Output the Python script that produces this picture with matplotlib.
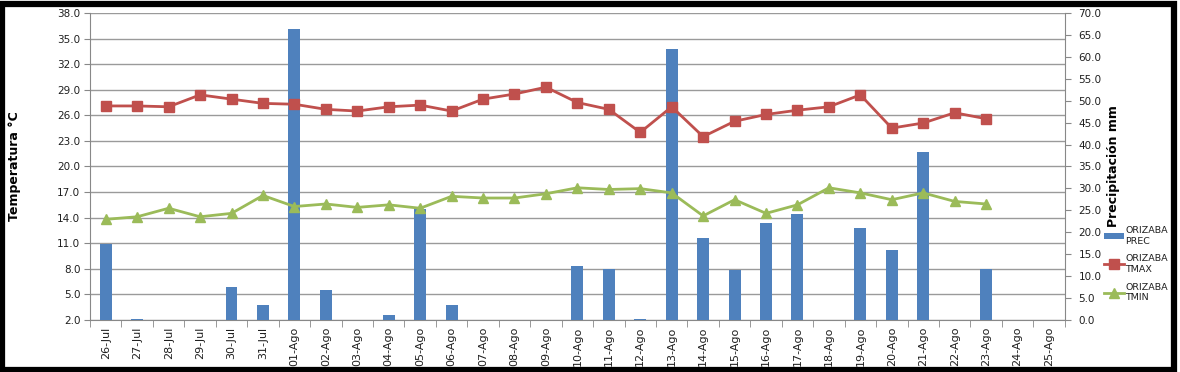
import matplotlib
matplotlib.use("Agg")
from matplotlib import pyplot as plt
from matplotlib.patches import Rectangle
import numpy as np

# data
dias = ["26-Jul", "27-Jul", "28-Jul", "29-Jul", "30-Jul", "31-Jul"] + \
       ["%02d-Ago" % d for d in range(1, 26)]

prec = [17.4, 0.2, 0.0, 0.0, 7.5, 3.4, 66.4, 6.9, 0.0, 1.1,
        25.3, 3.4, 0.0, 0.0, 0.0, 12.3, 11.6, 0.2, 61.9, 18.7,
        11.5, 22.1, 24.2, 0.0, 21.0, 16.0, 38.4, 0.0, 11.6, 0.0, 0.0]

tmax = [27.1, 27.1, 27.0, 28.4, 27.9, 27.4, 27.3, 26.7, 26.5, 27.0,
        27.2, 26.5, 27.9, 28.5, 29.3, 27.5, 26.7, 24.0, 27.0, 23.5,
        25.3, 26.1, 26.6, 27.0, 28.4, 24.5, 25.1, 26.3, 25.6,
        np.nan, np.nan]

tmin = [13.8, 14.1, 15.1, 14.1, 14.5, 16.6, 15.3, 15.6, 15.2, 15.5,
        15.1, 16.5, 16.3, 16.3, 16.8, 17.5, 17.3, 17.4, 16.9, 14.2,
        16.1, 14.5, 15.5, 17.5, 16.9, 16.1, 16.9, 15.9, 15.6,
        np.nan, np.nan]

temp_ticks = np.arange(2, 38.1, 3)
prec_ticks = np.arange(0, 70.1, 5)

x = np.arange(len(dias))
txt = "#1f1f1f"

fig = plt.figure(figsize=(11.8, 3.72), dpi=100)
ax = fig.add_axes([0.0763, 0.140, 0.826, 0.825])

# temperature axis (left) carries the grid
ax.set_xlim(-0.5, len(dias) - 0.5)
ax.set_ylim(2, 38)
ax.set_yticks(temp_ticks)
ax.set_yticklabels(["%.1f" % t for t in temp_ticks], fontsize=7.5, color=txt)
ax.yaxis.grid(True, color="#9a9a9a", lw=1.0)
ax.set_axisbelow(True)
ax.set_ylabel("Temperatura °C", fontsize=9, fontweight="bold", labelpad=26)
ax.set_xticks(x)
ax.set_xticklabels(dias, rotation=90, fontsize=8, color=txt)
ax.set_xticks(np.arange(-0.5, len(dias), 1), minor=True)
ax.tick_params(axis="x", which="major", length=0, pad=5)
ax.tick_params(axis="x", which="minor", length=5, color="#888888")
ax.tick_params(axis="y", length=4, color="#888888", pad=3)
for s in ["top", "right"]:
    ax.spines[s].set_visible(False)
for s in ["left", "bottom"]:
    ax.spines[s].set_color("#888888")

# precipitation bars (right axis)
ax2 = ax.twinx()
ax2.set_ylim(0, 70)
ax2.bar(x, prec, width=0.38, color="#4F81BD", label="ORIZABA\nPREC")
ax2.set_yticks(prec_ticks)
ax2.set_yticklabels(["%.1f" % p for p in prec_ticks], fontsize=7.5, color=txt)
ax2.tick_params(axis="y", length=4, color="#888888", pad=6)
ax2.set_ylabel("Precipitación mm", fontsize=9, fontweight="bold", labelpad=4)
for s in ["top", "left", "bottom"]:
    ax2.spines[s].set_visible(False)
ax2.spines["right"].set_color("#888888")

# temperature lines on top of the bars
ax3 = ax.twinx()
ax3.set_ylim(2, 38)
ax3.axis("off")
ax3.plot(x, tmax, color="#C0504D", lw=2, marker="s", ms=7,
         label="ORIZABA\nTMAX")
ax3.plot(x, tmin, color="#9BBB59", lw=2, marker="^", ms=7,
         label="ORIZABA\nTMIN")

h2, l2 = ax2.get_legend_handles_labels()
h3, l3 = ax3.get_legend_handles_labels()
fig.legend(h2 + h3, l2 + l3, loc="upper left", bbox_to_anchor=(0.928, 0.415),
           frameon=False, fontsize=6.8, handlelength=2.2, handletextpad=0.1,
           labelspacing=0.95, labelcolor=txt)

# black frame around the whole picture
fig.patches.append(Rectangle((0.002, 0.006), 0.993, 0.984, transform=fig.transFigure,
                             fill=False, edgecolor="black", lw=4.5))

plt.savefig("out.png", dpi=100)
